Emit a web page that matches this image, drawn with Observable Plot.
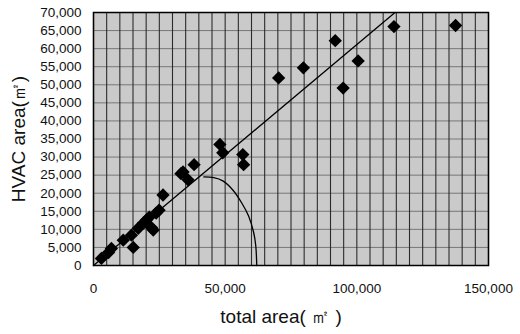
<!DOCTYPE html>
<html>
<head>
<meta charset="utf-8">
<script src="https://cdn.jsdelivr.net/npm/d3@7"></script>
<script src="https://cdn.jsdelivr.net/npm/@observablehq/plot@0.6"></script>
<style>
  html, body { margin: 0; padding: 0; background: #fff; }
  svg { display: block; }
</style>
</head>
<body>
<div id="chart"></div>
<script>
// Observed buildings: total area vs HVAC area (m²)
const totalArea = [3000, 5700, 6800, 11300, 15100, 14400, 17000, 18900, 20000, 21200, 22700, 22000, 23800, 24900, 26400,
  33200, 34000, 35900, 38200, 48000, 49100, 56700, 57000, 70300, 79700, 91800, 94800, 100500, 114100, 137500];
const hvacArea = [1950, 3600, 4700, 7000, 5000, 8400, 10300, 11700, 12500, 13400, 9800, 10500, 14500, 15300, 19500,
  25400, 25900, 23700, 27900, 33500, 31200, 30700, 27900, 51900, 54700, 62200, 49100, 56600, 66100, 66400];

// Regression line end points
const lineX = [0, 114500];
const lineY = [0, 70000];

// Arc curve
const arcX = [41900, 45700, 49100, 52900, 56300, 58900, 60800, 61600, 62000];
const arcY = [24500, 24300, 23400, 20900, 17300, 13700, 9200, 5600, 0];

// Ticks
const xTicks = [0, 50000, 100000, 150000];
const yTicks = [0, 5000, 10000, 15000, 20000, 25000, 30000, 35000, 40000, 45000, 50000, 55000, 60000, 65000, 70000];
const xGrid = d3.range(0, 150001, 5000);
const yGrid = d3.range(0, 70001, 5000);

const xLabel = "total area( ㎡ )";
const yLabel = "HVAC area(㎡)";

const points = totalArea.map((x, i) => ({x, y: hvacArea[i]}));
const line = lineX.map((x, i) => ({x, y: lineY[i]}));
const arc = arcX.map((x, i) => ({x, y: arcY[i]}));

const fmt = d3.format(",");
const font = "Liberation Sans, Arial, sans-serif";

const chart = Plot.plot({
  width: 520,
  height: 334,
  marginLeft: 93,
  marginRight: 32,
  marginTop: 12,
  marginBottom: 69,
  style: {fontFamily: font, background: "#fff", color: "#111"},
  x: {domain: [0, 150000]},
  y: {domain: [0, 70000]},
  marks: [
    Plot.frame({fill: "#cacaca", stroke: null}),
    Plot.ruleX(xGrid, {stroke: "#111", strokeWidth: 1.1, strokeOpacity: 0.85}),
    Plot.ruleY(yGrid, {stroke: "#222", strokeWidth: 0.9, strokeOpacity: 0.55}),
    Plot.frame({stroke: "#000", strokeWidth: 1.5}),
    Plot.line(line, {x: "x", y: "y", stroke: "#000", strokeWidth: 1.3}),
    Plot.line(arc, {x: "x", y: "y", stroke: "#000", strokeWidth: 1.3, curve: "catmull-rom"}),
    Plot.dot(points, {x: "x", y: "y", symbol: "diamond2", r: 6, fill: "#000", stroke: "none"}),
    Plot.axisX({ticks: xTicks, tickFormat: fmt, tickSize: 0, tickPadding: 18, fontSize: 13.5, label: null}),
    Plot.axisY({ticks: yTicks, tickFormat: fmt, tickSize: 0, tickPadding: 12, fontSize: 13.5, label: null}),
    Plot.text([xLabel], {frameAnchor: "bottom", dx: -10, dy: 57, fontSize: 19, fill: "#111"}),
    Plot.text([yLabel], {frameAnchor: "left", textAnchor: "middle", dx: -75, rotate: -90, fontSize: 19, fill: "#111"})
  ]
});
document.getElementById("chart").appendChild(chart);
</script>
</body>
</html>
